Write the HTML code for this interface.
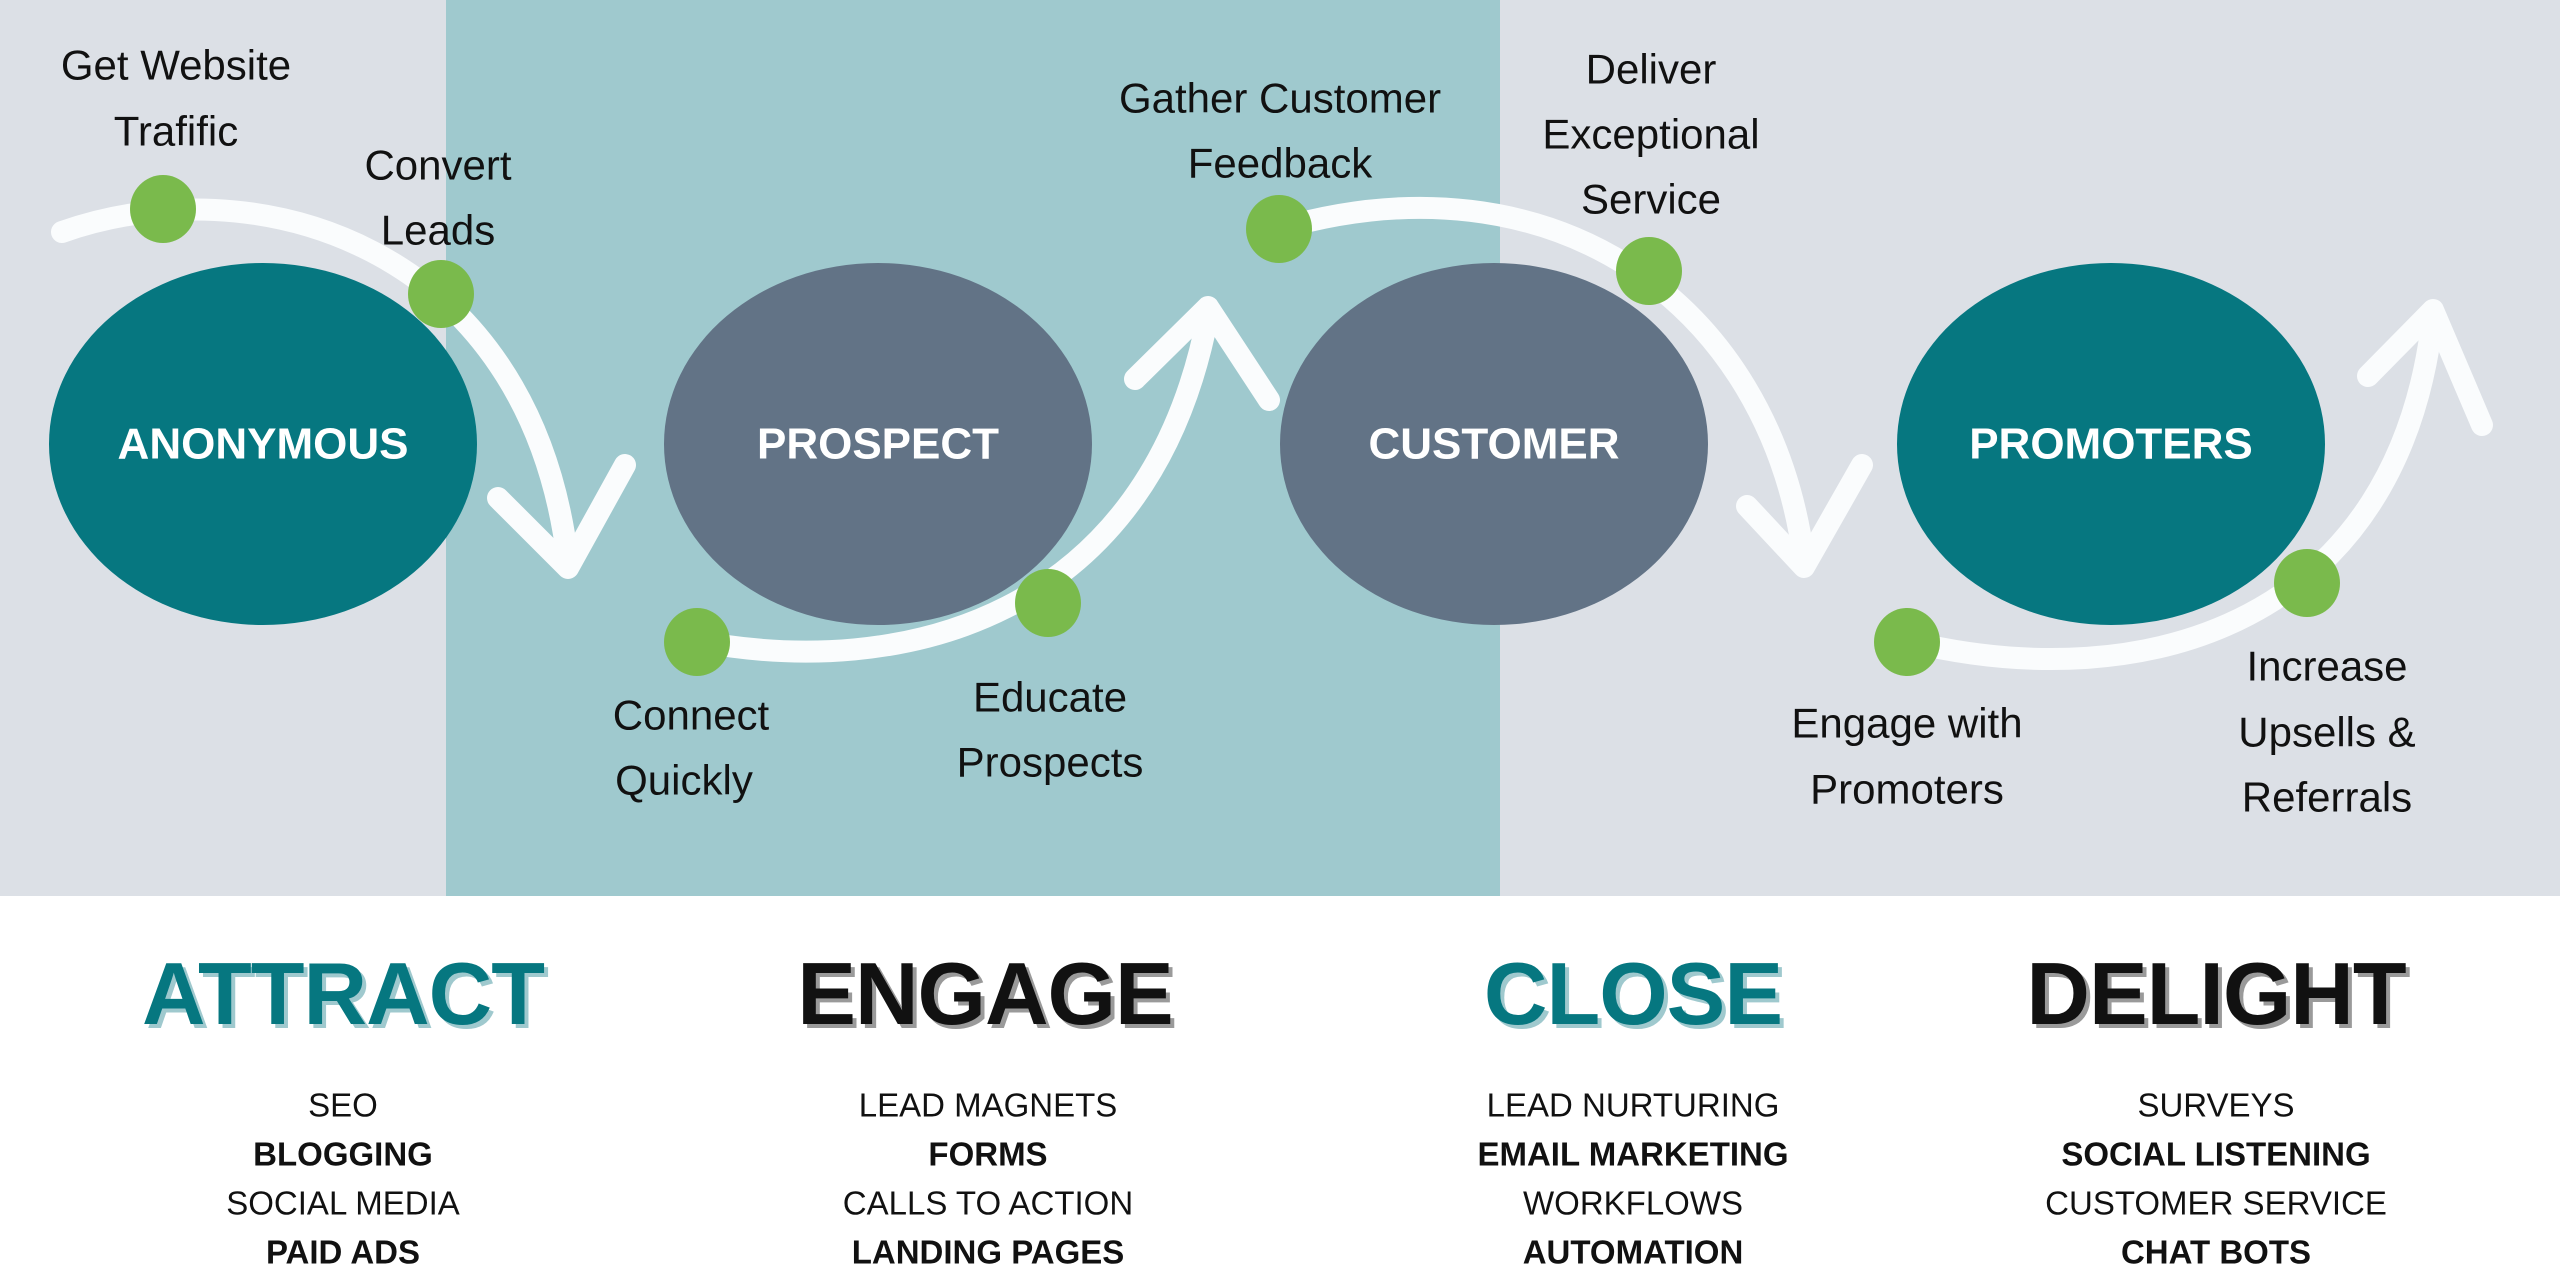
<!DOCTYPE html>
<html><head><meta charset="utf-8"><style>
html,body{margin:0;padding:0;background:#fff}
svg{display:block}
text{font-family:"Liberation Sans",sans-serif}
</style></head><body>
<svg width="2560" height="1280" viewBox="0 0 2560 1280" xmlns="http://www.w3.org/2000/svg">
<rect x="0" y="0" width="2560" height="896" fill="#dce0e6"/>
<rect x="446" y="0" width="1054" height="896" fill="#9fc9ce"/>
<g text-anchor="middle" dominant-baseline="central" font-size="44" font-weight="bold" fill="#fff">
<ellipse cx="263" cy="444" rx="214" ry="181" fill="#067780"/>
<text x="263" y="444">ANONYMOUS</text>
<ellipse cx="878" cy="444" rx="214" ry="181" fill="#627386"/>
<text x="878" y="444">PROSPECT</text>
<ellipse cx="1494" cy="444" rx="214" ry="181" fill="#627386"/>
<text x="1494" y="444">CUSTOMER</text>
<ellipse cx="2111" cy="444" rx="214" ry="181" fill="#067780"/>
<text x="2111" y="444">PROMOTERS</text>
</g>
<g fill="none" stroke="#fafcfd" stroke-width="22" stroke-linecap="round" stroke-linejoin="round">
<path d="M62,232 C250,165 530,240 568,562"/>
<path d="M498,498 L568,568 L625,465"/>
<path d="M697,641 C900,680 1150,620 1208,315"/>
<path d="M1135,379 L1208,307 L1269,400"/>
<path d="M1279,229 C1550,150 1770,300 1804,560"/>
<path d="M1747,506 L1804,567 L1862,465"/>
<path d="M1907,641 C2150,700 2400,620 2433,315"/>
<path d="M2368,376 L2433,310 L2482,425"/>
</g>
<g fill="#7aba4c">
<ellipse cx="163" cy="209" rx="33" ry="34"/>
<ellipse cx="441" cy="294" rx="33" ry="34"/>
<ellipse cx="697" cy="642" rx="33" ry="34"/>
<ellipse cx="1048" cy="603" rx="33" ry="34"/>
<ellipse cx="1279" cy="229" rx="33" ry="34"/>
<ellipse cx="1649" cy="271" rx="33" ry="34"/>
<ellipse cx="1907" cy="642" rx="33" ry="34"/>
<ellipse cx="2307" cy="583" rx="33" ry="34"/>
</g>
<g text-anchor="middle" dominant-baseline="central" font-size="42" fill="#111">
<text x="176" y="65">Get Website</text><text x="176" y="131">Trafific</text>
<text x="438" y="165">Convert</text><text x="438" y="230">Leads</text>
<text x="691" y="715">Connect</text><text x="684" y="780">Quickly</text>
<text x="1050" y="697">Educate</text><text x="1050" y="762">Prospects</text>
<text x="1280" y="98">Gather Customer</text><text x="1280" y="163">Feedback</text>
<text x="1651" y="69">Deliver</text><text x="1651" y="134">Exceptional</text><text x="1651" y="199">Service</text>
<text x="1907" y="723">Engage with</text><text x="1907" y="789">Promoters</text>
<text x="2327" y="666">Increase</text><text x="2327" y="732">Upsells &amp;</text><text x="2327" y="797">Referrals</text>
</g>
<g text-anchor="middle" font-size="88" font-weight="bold" letter-spacing="-1">
<text x="347" y="1028" fill="#9fc9ce">ATTRACT</text><text x="343" y="1024" fill="#067780">ATTRACT</text>
<text x="989" y="1028" fill="#9a9a9a">ENGAGE</text><text x="985" y="1024" fill="#111">ENGAGE</text>
<text x="1637" y="1028" fill="#9fc9ce">CLOSE</text><text x="1633" y="1024" fill="#067780">CLOSE</text>
<text x="2220" y="1028" fill="#9a9a9a">DELIGHT</text><text x="2216" y="1024" fill="#111">DELIGHT</text>
</g>
<g text-anchor="middle" dominant-baseline="central" font-size="33" fill="#111">
<text x="343" y="1105">SEO</text>
<text x="343" y="1154" font-weight="bold">BLOGGING</text>
<text x="343" y="1203">SOCIAL MEDIA</text>
<text x="343" y="1252" font-weight="bold">PAID ADS</text>
<text x="988" y="1105">LEAD MAGNETS</text>
<text x="988" y="1154" font-weight="bold">FORMS</text>
<text x="988" y="1203">CALLS TO ACTION</text>
<text x="988" y="1252" font-weight="bold">LANDING PAGES</text>
<text x="1633" y="1105">LEAD NURTURING</text>
<text x="1633" y="1154" font-weight="bold">EMAIL MARKETING</text>
<text x="1633" y="1203">WORKFLOWS</text>
<text x="1633" y="1252" font-weight="bold">AUTOMATION</text>
<text x="2216" y="1105">SURVEYS</text>
<text x="2216" y="1154" font-weight="bold">SOCIAL LISTENING</text>
<text x="2216" y="1203">CUSTOMER SERVICE</text>
<text x="2216" y="1252" font-weight="bold">CHAT BOTS</text>
</g>
</svg>
</body></html>
